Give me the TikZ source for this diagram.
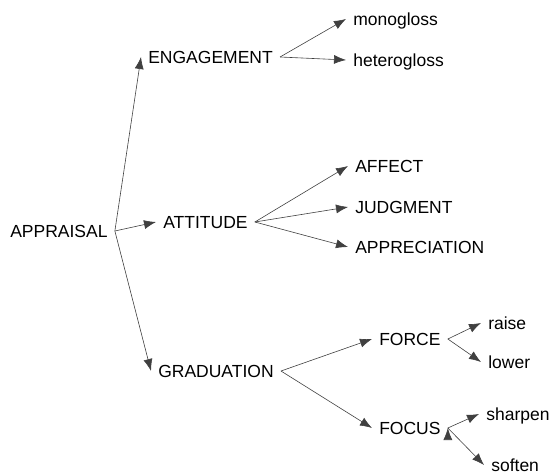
\documentclass[tikz,border=0pt]{standalone}
\usepackage{fontspec}
\setmainfont{Liberation Sans}
\usepackage{tikz}
\usetikzlibrary{arrows.meta}

\begin{document}
\begin{tikzpicture}[x=1pt,y=-1pt,-{Latex[length=12pt,width=9pt]},
                    line width=0.6pt,draw=black!75,
                    word node/.style={anchor=west,inner xsep=7pt,inner ysep=0pt,
                      text height=12.5pt,text depth=0pt,text=black,
                      font=\fontsize{17.5}{20}\selectfont}]

  \useasboundingbox (0,0) rectangle (554,476);

  \node[word node] (appraisal) at (3,231) {APPRAISAL};
  \node[word node] (engage) at (141,57) {ENGAGEMENT};
  \node[word node] (attitude) at (156,222) {ATTITUDE};
  \node[word node] (grad) at (151,371) {GRADUATION};
  \node[word node] (mono) at (346,19) {monogloss};
  \node[word node] (hetero) at (346,60) {heterogloss};
  \node[word node] (affect) at (348,166) {AFFECT};
  \node[word node] (judge) at (348,207) {JUDGMENT};
  \node[word node] (apprec) at (348,247) {APPRECIATION};
  \node[word node] (force) at (372,339) {FORCE};
  \node[word node] (focus) at (372,428) {FOCUS};
  \node[word node] (raise) at (481,323) {raise};
  \node[word node] (lower) at (481,362) {lower};
  \node[word node] (sharpen) at (479,414) {sharpen};
  \node[word node] (soften) at (484,465) {soften};

  \path[draw=black!75]
    (appraisal.east) edge (engage.west)
                     edge (attitude.west)
                     edge (grad.west)
    (engage.east) edge (mono.west)
                  edge (hetero.west)
    (attitude.east) edge (affect.west)
                    edge (judge.west)
                    edge (apprec.west)
    (grad.east) edge (force.west)
                edge (focus.west)
    (force.east) edge (raise.west)
                 edge (lower.west)
    (focus.east) edge (sharpen.west)
                 edge (soften.west);

\end{tikzpicture}
\end{document}
